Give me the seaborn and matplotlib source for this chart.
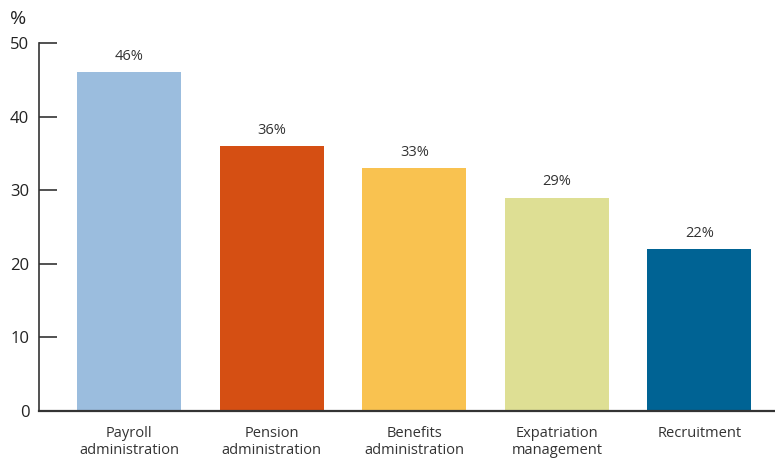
import matplotlib
matplotlib.use("Agg")
import matplotlib.pyplot as plt
import seaborn as sns
import pandas as pd

# data
categories = ["Payroll\nadministration", "Pension\nadministration", "Benefits\nadministration",
              "Expatriation\nmanagement", "Recruitment"]
values = [46, 36, 33, 29, 22]
bar_colors = ["#9BBDDE", "#D54F13", "#F9C250", "#DEDF94", "#006394"]
y_ticks = [0, 10, 20, 30, 40, 50]

sns.set_theme(style="white")
plt.rcParams['font.family'] = ['Open Sans', 'DejaVu Sans']

df = pd.DataFrame({"category": categories, "value": values})

fig = plt.figure(figsize=(7.75, 4.63), dpi=100)
ax = fig.add_axes([0.0503, 0.1123, 0.9497, 0.7948])

sns.barplot(data=df, x="category", y="value", hue="category", palette=bar_colors,
            width=0.73, saturation=1, legend=False, linewidth=0, ax=ax)

# value labels
for i, v in enumerate(values):
    ax.annotate(f"{v}%", (i, v), xytext=(0, 6), textcoords="offset points",
                ha="center", va="bottom", fontsize=10.5, color="#333333")

ax.set_ylim(0, 50)
ax.set_xlim(-0.632, 4.53)
ax.set_yticks(y_ticks)
ax.set_xlabel("")
ax.set_ylabel("")

for s in ["top", "right"]:
    ax.spines[s].set_visible(False)
ax.spines["left"].set_color("#333333")
ax.spines["bottom"].set_color("#333333")
ax.spines["left"].set_linewidth(1.2)
ax.spines["bottom"].set_linewidth(1.6)

ax.tick_params(axis="y", direction="in", length=13, width=1.2, color="#333333",
               labelsize=12, labelcolor="#222222", pad=7, left=True)
ax.tick_params(axis="x", length=0, labelsize=10.5, labelcolor="#333333", pad=11)

ax.text(-0.04, 1.065, "%", transform=ax.transAxes, fontsize=14, color="#222222",
        ha="left", va="center")

fig.savefig("out.png", dpi=100)
